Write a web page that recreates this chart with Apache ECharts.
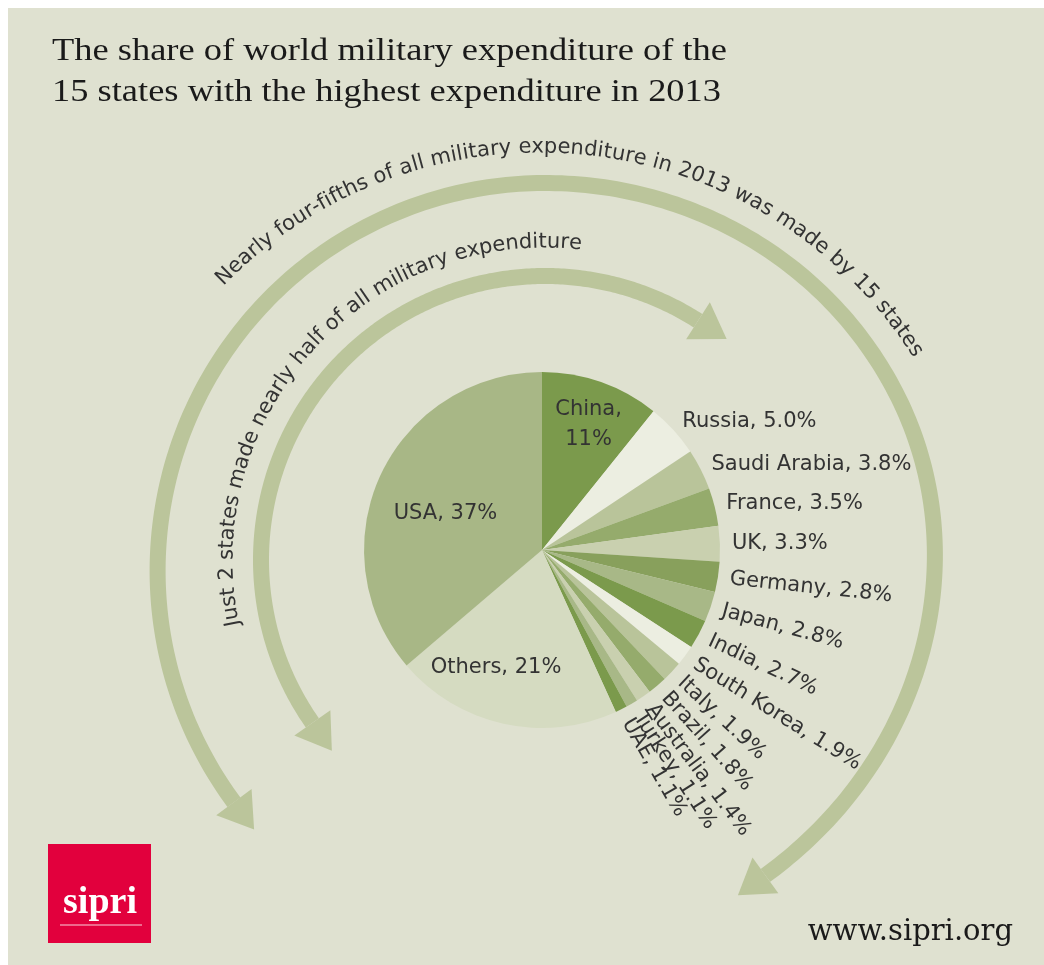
<!DOCTYPE html>
<html><head><meta charset="utf-8">
<script src="https://cdn.jsdelivr.net/npm/echarts@6/dist/echarts.min.js"></script>
<style>html,body{margin:0;padding:0;background:#fff}#c{width:1044px;height:965px}</style>
</head><body><div id="c"></div>
<script>
// ---- data ----
const countries = ['China','Russia','Saudi Arabia','France','UK','Germany','Japan','India','South Korea','Italy','Brazil','Australia','Turkey','UAE','Others','USA'];
const shares = [11, 5.0, 3.8, 3.5, 3.3, 2.8, 2.8, 2.7, 1.9, 1.9, 1.8, 1.4, 1.1, 1.1, 21, 37];
const shareLabels = ['11%','5.0%','3.8%','3.5%','3.3%','2.8%','2.8%','2.7%','1.9%','1.9%','1.8%','1.4%','1.1%','1.1%','21%','37%'];
const titleLines = ['The share of world military expenditure of the', '15 states with the highest expenditure in 2013'];
const outerNote = 'Nearly four-fifths of all military expenditure in 2013 was made by 15 states';
const innerNote = 'Just 2 states made nearly half of all military expenditure';

// ---- styles ----
const sliceColors = ['#7b9a4c','#eceee1','#b9c49a','#95ab6c','#c9d0af','#88a05c','#a8b887','#7b9a4c','#eceee1','#b9c49a','#95ab6c','#c9d0af','#a8b887','#7b9a4c','#d5dbc1','#a8b786'];
const labelRotations = [0,0,0,0,0,-6,-15,-25,-32,-43,-48,-53,-57,-60,0,0];
const insideSet = {'China':[16,-39],'USA':[-13,2],'Others':[-26,28]};

const BG = '#dfe1d0', BAND = '#bbc59b', TXT = '#333333';
const SANS = 'DejaVu Sans';
const D = Math.PI / 180;

const chart = echarts.init(document.getElementById('c'), null, {renderer:'canvas'});
const mctx = document.createElement('canvas').getContext('2d');

// text set along a circle, fitted between two angles (degrees, clockwise on screen)
function arcText(str, cx, cy, R, a0, a1, size) {
  const font = size + 'px "' + SANS + '"';
  mctx.font = font;
  const chars = Array.from(str);
  const total = mctx.measureText(str).width;
  const L = R * (a1 - a0) * D;
  const extra = (L - total) / (chars.length - 1);
  const els = [];
  for (let i = 0; i < chars.length; i++) {
    const pre = mctx.measureText(chars.slice(0, i).join('')).width;
    const w = mctx.measureText(chars.slice(0, i + 1).join('')).width - pre;
    const a = a0 * D + (pre + w / 2 + i * extra) / R;
    if (chars[i] === ' ') continue;
    els.push({type:'text', x: cx + R * Math.cos(a), y: cy + R * Math.sin(a), rotation: -(a + Math.PI / 2), z: 5,
      style:{text: chars[i], font: font, fill: TXT, align:'center', verticalAlign:'middle'}});
  }
  return els;
}

// curved arrow band with heads at both ends; radius eased between knots [angleDeg, r]
function arrowBand(cx, cy, knots, lw) {
  const rAt = (a) => {
    for (let i = 0; i < knots.length - 1; i++) {
      const [a0, r0] = knots[i], [a1, r1] = knots[i + 1];
      if (a <= a1) {
        let u = (a - a0) / (a1 - a0);
        u = u * u * (3 - 2 * u);
        return r0 + (r1 - r0) * u;
      }
    }
    return knots[knots.length - 1][1];
  };
  const aS = knots[0][0], aE = knots[knots.length - 1][0];
  const pts = [];
  const n = 300;
  for (let i = 0; i <= n; i++) {
    const a = aS + (aE - aS) * i / n, r = rAt(a);
    pts.push([cx + r * Math.cos(a * D), cy + r * Math.sin(a * D)]);
  }
  const L = 34, W = 22;
  const head = (aDeg, sign) => {
    const t = aDeg * D, r = rAt(aDeg);
    const bx = cx + r * Math.cos(t), by = cy + r * Math.sin(t);
    const dx = -Math.sin(t) * sign, dy = Math.cos(t) * sign;
    const nx = Math.cos(t), ny = Math.sin(t);
    return {type:'polygon', z: 3, shape:{points:[[bx + W * nx, by + W * ny],[bx + L * dx, by + L * dy],[bx - W * nx, by - W * ny]]}, style:{fill: BAND}};
  };
  return [
    {type:'polyline', z: 3, shape:{points: pts}, style:{stroke: BAND, lineWidth: lw, fill: null}},
    head(aS, -1), head(aE, 1)
  ];
}

function fitTitle(str, y) {
  const font = '32px "Liberation Serif"';
  mctx.font = font;
  const sx = 675 / mctx.measureText(titleLines[0]).width;
  return {type:'text', x:52, y:y, scaleX:sx, z:5, style:{text:str, font:font, fill:'#1a1a1a', align:'left', verticalAlign:'middle'}};
}

const graphics = [
  {type:'rect', z:-10, shape:{x:8, y:8, width:1036, height:957}, style:{fill: BG}},
  fitTitle(titleLines[0], 52),
  fitTitle(titleLines[1], 93),
  ...arrowBand(545, 572, [[143.5,387],[270,389],[335,394],[414,375]], 16),
  ...arrowBand(545, 560, [[145,284],[302.6,284]], 16),
  ...arcText(outerNote, 540, 595, 448, 224.3, 327.6, 21),
  ...arcText(innerNote, 545, 560, 318, 168, 276.6, 21),
  {type:'rect', z:5, shape:{x:48, y:844, width:103, height:99}, style:{fill:'#e2003d'}},
  {type:'text', x:100, y:903, z:6, style:{text:'sipri', font:'bold 38px "Liberation Serif"', fill:'#ffffff', align:'center', verticalAlign:'middle'}},
  {type:'line', z:6, shape:{x1:60, y1:925, x2:142, y2:925}, style:{stroke:'rgba(255,255,255,0.55)', lineWidth:1.5}},
  {type:'text', x:1013, y:932, z:5, style:{text:'www.sipri.org', font:'29px "DejaVu Serif"', fill:'#1a1a1a', align:'right', verticalAlign:'middle'}}
];

const pieData = countries.map((c, i) => {
  const inside = insideSet[c];
  return {
    name: c, value: shares[i],
    itemStyle:{color: sliceColors[i]},
    label: inside ? {position:'inside', rotate:0, formatter: c === 'China' ? c + ',\n' + shareLabels[i] : c + ', ' + shareLabels[i], align:'center'}
                  : {position:'outside', rotate: labelRotations[i], formatter: c + ', ' + shareLabels[i]}
  };
});

chart.setOption({
  backgroundColor:'#ffffff',
  animation:false,
  graphic: graphics,
  series:[{
    type:'pie', center:[542,550], radius:[0,178], startAngle:90, clockwise:true,
    avoidLabelOverlap:false, silent:true,
    data: pieData,
    itemStyle:{borderWidth:0},
    label:{show:true, color:TXT, fontFamily:SANS, fontSize:21, lineHeight:30, distanceToLabelLine:0},
    labelLine:{show:false, length:12, length2:0},
    emphasis:{disabled:true},
    labelLayout: function (p) {
      const off = insideSet[countries[p.dataIndex]];
      return off ? {dx: off[0], dy: off[1]} : {};
    }
  }]
});
</script></body></html>
